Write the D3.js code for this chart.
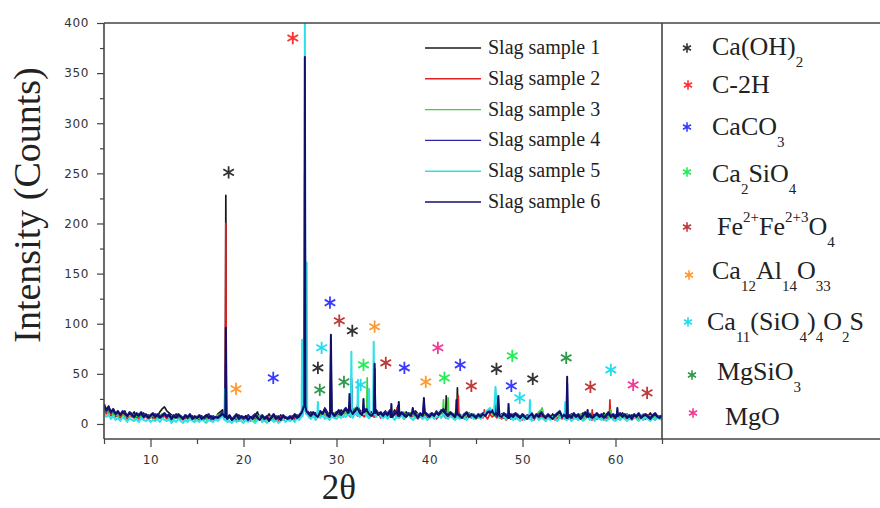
<!DOCTYPE html>
<html>
<head>
<meta charset="utf-8">
<script src="https://cdn.jsdelivr.net/npm/d3@7"></script>
<style>
  html, body { margin: 0; padding: 0; background: #fff; }
  svg { display: block; }
</style>
</head>
<body>
<svg id="chart" width="880" height="508"></svg>
<script>
// 2θ grid of the baseline samples (degrees)
const start = 5;
const step = 0.25;

const seriesNames = ["Slag sample 1", "Slag sample 2", "Slag sample 3", "Slag sample 4", "Slag sample 5", "Slag sample 6"];
const seriesColors = ["#1a1a1a", "#e02020", "#40d040", "#2828a8", "#30e0e8", "#10106a"];

// baseline counts, one value every 0.25 deg from 5 to 65
const base1 = [
  16,12,18,10,14,9,12,8,11,13,7,10,9,12,6,10,8,11,7,9,
  8,6,10,7,12,15,17,13,11,9,7,10,6,8,5,9,7,6,8,5,
  7,4,8,6,5,9,4,7,6,10,12,14,9,6,8,5,7,4,9,6,
  5,8,4,7,6,9,12,5,8,4,7,10,6,5,8,4,9,6,7,5,
  6,8,5,9,7,12,18,14,10,12,9,11,8,13,10,16,12,9,11,10,
  12,9,14,11,16,13,10,15,12,18,14,11,13,16,10,12,9,14,11,8,
  10,13,8,12,9,14,11,8,10,7,12,9,11,8,13,10,7,9,12,8,
  9,11,8,13,10,14,12,9,11,8,10,7,12,9,6,10,8,11,7,9,
  6,9,7,10,8,12,14,11,13,9,7,10,6,9,8,5,10,7,9,6,
  8,5,9,7,10,6,8,11,7,9,5,8,6,10,7,9,12,6,8,5,
  7,10,6,9,5,8,11,7,9,6,10,8,5,9,7,11,6,8,10,7,
  9,6,8,11,7,10,5,9,8,6,10,7,9,5,8,11,6,9,7,8,6
];
const base2 = [
  14,10,12,8,11,7,9,6,10,8,5,9,7,6,8,5,9,6,7,5,
  6,8,5,7,9,6,8,5,7,4,6,8,5,7,4,6,5,8,4,6,
  5,7,4,6,8,5,7,4,6,8,9,11,7,5,6,4,7,5,3,6,
  4,6,5,3,7,5,8,4,6,3,5,7,4,6,5,3,7,4,6,5,
  4,7,5,8,6,9,14,10,8,7,9,6,10,8,11,9,7,10,8,6,
  9,7,11,8,12,9,7,10,13,8,11,9,7,12,8,10,7,9,11,6,
  8,10,6,9,7,11,8,6,9,5,8,10,6,9,7,5,8,6,10,7,
  6,9,7,5,8,11,9,6,8,10,7,5,9,6,8,5,7,10,6,8,
  5,7,9,6,8,5,10,7,9,6,8,5,7,4,8,6,9,5,7,6,
  4,7,5,8,6,4,9,5,7,6,3,8,5,7,4,6,8,5,7,4,
  6,8,5,7,4,9,6,5,8,6,4,7,5,8,6,4,7,5,8,6,
  5,7,4,8,6,5,7,4,6,8,5,7,4,6,9,5,7,4,6,5,6
];
const base3 = [
  12,16,9,13,8,11,7,10,12,6,9,8,11,5,8,10,6,9,7,8,
  6,9,7,5,8,10,9,7,6,8,5,7,9,4,6,8,5,7,6,4,
  8,5,7,6,4,8,6,5,7,9,10,8,6,4,7,5,8,6,4,7,
  6,4,8,5,7,3,6,9,5,7,4,6,8,5,3,7,5,8,6,4,
  7,5,9,6,8,11,16,12,9,8,10,7,11,9,12,8,10,7,9,11,
  8,12,10,7,13,9,11,14,16,12,10,13,11,9,12,8,10,13,9,11,
  7,10,12,8,11,9,6,10,8,12,7,9,11,8,6,10,9,7,11,8,
  10,7,9,12,8,11,14,10,12,8,9,11,7,10,8,6,9,11,7,10,
  8,6,10,7,9,11,13,10,8,11,9,6,8,10,7,9,6,8,10,7,
  9,6,8,5,10,7,9,12,14,8,6,9,7,5,8,10,6,9,7,8,
  6,9,7,5,8,10,6,9,7,11,8,6,9,7,5,8,10,7,6,9,
  7,5,9,6,8,10,7,5,9,7,6,8,10,6,8,5,9,7,6,8,7
];
const base4 = [
  18,13,15,11,14,10,12,9,13,11,8,12,10,7,11,9,12,8,10,7,
  9,11,8,10,7,9,11,8,10,6,9,7,10,8,6,9,7,10,5,8,
  6,9,7,5,8,10,6,8,5,7,9,12,8,6,9,5,7,10,6,8,
  7,5,9,6,8,10,7,5,9,6,8,4,7,10,6,8,5,9,7,6,
  8,6,10,7,9,12,20,15,11,9,12,10,8,13,11,15,10,8,12,9,
  11,14,10,13,16,12,15,11,14,17,12,10,13,15,11,9,12,14,10,12,
  9,12,10,14,8,11,13,9,12,10,8,11,9,13,10,7,11,9,12,10,
  8,11,9,12,10,13,15,11,9,12,10,8,11,9,7,10,12,8,10,9,
  7,10,8,11,9,13,12,14,10,12,9,8,11,9,7,10,8,11,9,7,
  10,8,6,9,11,7,10,8,12,9,7,10,8,6,9,11,13,8,10,7,
  9,7,11,8,10,6,9,12,8,10,7,9,11,8,10,7,9,12,8,10,
  7,9,11,8,10,7,9,6,10,8,11,7,9,10,8,6,9,11,8,7,9
];
const base5 = [
  10,7,9,5,8,4,6,3,7,5,2,6,4,3,5,2,6,4,3,5,
  2,4,3,5,2,6,4,3,5,1,4,2,5,3,1,4,2,5,3,2,
  4,2,5,3,1,4,3,2,5,3,6,8,4,2,3,1,4,2,5,3,
  1,4,2,5,3,1,4,6,2,4,1,3,5,2,4,1,3,5,2,4,
  3,5,2,6,4,8,15,10,7,5,8,4,7,6,9,5,7,4,8,6,
  5,8,6,9,7,10,8,6,11,9,7,10,12,8,6,9,11,7,10,8,
  6,8,5,9,7,4,8,6,9,5,7,10,6,4,8,6,9,5,7,4,
  6,8,5,7,9,6,10,7,5,8,6,4,7,5,8,6,4,7,9,5,
  6,8,5,9,11,14,16,12,10,8,6,9,7,5,8,6,4,7,5,3,
  6,4,7,5,3,6,8,4,6,5,3,6,4,7,5,3,6,9,5,4,
  6,3,5,7,4,6,3,5,8,4,6,3,7,5,4,6,3,5,7,4,
  3,6,4,7,5,3,6,4,8,5,3,6,4,7,5,3,6,4,7,5,4
];
const base6 = [
  20,14,17,12,15,10,13,9,12,10,8,11,9,7,10,8,11,7,9,6,
  8,10,7,9,6,8,10,7,9,5,8,6,9,7,5,8,6,9,5,7,
  6,8,5,7,9,6,8,5,7,6,8,10,7,5,8,4,6,9,5,7,
  6,8,4,7,5,9,6,4,8,5,7,3,6,9,5,7,4,8,6,5,
  7,5,9,6,8,11,18,13,10,8,11,9,7,12,10,14,9,7,11,8,
  10,13,9,12,15,11,14,10,13,16,11,9,12,14,10,8,11,13,9,11,
  8,11,9,13,7,10,12,8,11,9,7,10,8,12,9,6,10,8,11,9,
  7,10,8,11,9,12,14,10,8,11,9,7,10,8,6,9,11,7,9,8,
  6,9,7,10,8,12,11,13,9,11,8,7,10,8,6,9,7,10,8,6,
  9,7,5,8,10,6,9,7,11,8,6,9,7,5,8,10,12,7,9,6,
  8,6,10,7,9,5,8,11,7,9,6,8,10,7,9,6,8,11,7,9,
  6,8,10,7,9,6,8,5,9,7,10,6,8,9,7,5,8,10,7,6,8
];

// peaks: [2θ, counts, half width in deg]
const peaks1 = [[18.1,228,0.06],[26.6,150,0.06],[29.4,60,0.07],[31.6,40,0.07],[34.1,45,0.07],[36.6,18,0.08],[39.4,20,0.07],[41.8,28,0.06],[43.0,36,0.06],[47.2,25,0.15],[54.8,30,0.06]];
const peaks2 = [[18.1,200,0.06],[26.6,120,0.06],[29.4,50,0.07],[34.1,40,0.07],[36.5,16,0.08],[43.1,28,0.06],[45.9,14,0.06],[57.5,14,0.07],[59.4,24,0.06]];
const peaks3 = [[18.1,40,0.06],[26.6,100,0.06],[29.4,40,0.07],[31.6,35,0.07],[33.3,46,0.06],[34.1,40,0.07],[41.5,24,0.06],[42.0,26,0.06],[52.1,16,0.07],[59.5,14,0.07]];
const peaks4 = [[18.1,60,0.06],[26.6,250,0.06],[29.4,70,0.07],[31.6,45,0.07],[34.1,55,0.07],[39.4,22,0.07],[47.2,26,0.15],[54.8,40,0.06]];
const peaks5 = [[18.0,35,0.06],[26.3,84,0.05],[26.6,430,0.05],[26.8,161,0.05],[28.0,22,0.07],[31.6,72,0.06],[32.3,44,0.06],[33.5,35,0.06],[34.0,82,0.07],[47.1,37,0.18],[50.8,24,0.07],[54.6,22,0.07]];
const peaks6 = [[18.1,96,0.06],[26.6,366,0.06],[29.4,89,0.08],[31.4,30,0.07],[32.9,25,0.07],[34.1,60,0.07],[35.9,20,0.07],[36.7,22,0.07],[38.2,16,0.07],[39.4,26,0.07],[42.9,24,0.06],[47.4,28,0.12],[48.5,20,0.07],[54.8,47,0.06],[57.0,14,0.07],[60.2,16,0.07]];

const bases = [base1, base2, base3, base4, base5, base6];
const peakSets = [peaks1, peaks2, peaks3, peaks4, peaks5, peaks6];

// phase labels (rich text segments: [text, "n" | "sub" | "sup"])
const phaseLabels = [
  [["Ca(OH)","n"],["2","sub"]],
  [["C-2H","n"]],
  [["CaCO","n"],["3","sub"]],
  [["Ca","n"],["2","sub"],["SiO","n"],["4","sub"]],
  [["Fe","n"],["2+","sup"],["Fe","n"],["2+3","sup"],["O","n"],["4","sub"]],
  [["Ca","n"],["12","sub"],["Al","n"],["14","sub"],["O","n"],["33","sub"]],
  [["Ca","n"],["11","sub"],["(SiO","n"],["4","sub"],[")","n"],["4","sub"],["O","n"],["2","sub"],["S","n"]],
  [["MgSiO","n"],["3","sub"]],
  [["MgO","n"]]
];
const phaseColors = ["#333333", "#ff3030", "#3a3aff", "#22ee55", "#c03838", "#ff9a30", "#22ddee", "#2e9a4a", "#f03a9a"];

// peak markers: [2θ, counts, phase index]
const markers = [
  [18.4,251,0],[25.3,385,1],[19.2,35,5],[23.2,46,2],[29.3,121,2],[30.3,103,4],[31.7,93,0],
  [34.1,97,5],[28.4,76,6],[28.0,56,0],[28.2,34,7],[32.9,59,3],[30.8,42,7],[32.6,39,6],
  [35.3,61,4],[37.3,56,2],[39.6,42,5],[40.9,76,8],[41.6,46,3],[43.3,59,2],[44.5,38,4],
  [47.2,55,0],[48.9,68,3],[48.8,38,2],[49.7,26,6],[51.1,45,0],[54.7,66,7],[57.3,37,4],
  [59.5,54,6],[61.9,39,8],[63.4,31,4]
];

const yMajor = [0, 50, 100, 150, 200, 250, 300, 350, 400];
const yMinor = [25, 75, 125, 175, 225, 275, 325, 375];
const xMajor = [10, 20, 30, 40, 50, 60];
const xMinor = [5, 15, 25, 35, 45, 55, 65];

const svg = d3.select("#chart");
const plotLeft = 104, plotRight = 662, plotTop = 23, plotBottom = 439;

const x = d3.scaleLinear().domain([5, 65]).range([plotLeft, plotRight]);
const y = d3.scaleLinear().domain([-15, 400]).range([plotBottom, plotTop]);

svg.append("defs").append("clipPath").attr("id", "plotClip")
  .append("rect").attr("x", plotLeft).attr("y", plotTop)
  .attr("width", plotRight - plotLeft).attr("height", plotBottom - plotTop);

// build each pattern from its baseline plus narrow peaks
function buildPattern(base, peaks) {
  let pts = base.map((v, i) => [start + i * step, v]);
  pts = pts.filter(p => !peaks.some(pk => Math.abs(p[0] - pk[0]) <= pk[2] + 0.01));
  peaks.forEach(pk => {
    const b = base[Math.round((pk[0] - start) / step)];
    pts.push([pk[0] - pk[2], b], [pk[0], pk[1]], [pk[0] + pk[2], b]);
  });
  return pts.sort((a, b) => a[0] - b[0]);
}

const line = d3.line().x(d => x(d[0])).y(d => y(d[1]));

const plot = svg.append("g").attr("clip-path", "url(#plotClip)");
bases.forEach((b, i) => {
  plot.append("path")
    .attr("d", line(buildPattern(b, peakSets[i])))
    .attr("fill", "none")
    .attr("stroke", seriesColors[i])
    .attr("stroke-width", i >= 3 ? 2 : 1.7)
    .attr("stroke-linejoin", "round");
});

// asterisk markers
const star = d3.symbol().type(d3.symbolAsterisk).size(105);
svg.append("g").selectAll("path")
  .data(markers)
  .join("path")
  .attr("transform", d => `translate(${x(d[0])},${y(d[1])})`)
  .attr("d", star)
  .attr("fill", "none")
  .attr("stroke", d => phaseColors[d[2]])
  .attr("stroke-width", 1.8);

// axes
const tickFont = "'DejaVu Sans', sans-serif";
function styleAxis(g) {
  g.select(".domain").remove();
  g.selectAll(".tick line").attr("stroke", "#444").attr("stroke-width", 1.2);
  g.selectAll(".tick text").attr("fill", "#333").style("font-family", tickFont)
    .style("font-size", "12px").style("letter-spacing", "0.6px");
}
svg.append("g").attr("transform", `translate(${plotLeft},0)`)
  .call(d3.axisLeft(y).tickValues(yMajor).tickSize(7).tickPadding(8)).call(styleAxis);
svg.append("g").attr("transform", `translate(${plotLeft},0)`)
  .call(d3.axisLeft(y).tickValues(yMinor).tickSize(4).tickFormat("")).call(styleAxis);
svg.append("g").attr("transform", `translate(0,${plotBottom})`)
  .call(d3.axisBottom(x).tickValues(xMajor).tickSize(8).tickPadding(8)).call(styleAxis);
svg.append("g").attr("transform", `translate(0,${plotBottom})`)
  .call(d3.axisBottom(x).tickValues(xMinor).tickSize(5).tickFormat("")).call(styleAxis);

// frame: plot box plus the phase legend box on the right
const frame = svg.append("g").attr("stroke", "#444").attr("stroke-width", 1.6);
frame.append("line").attr("x1", plotLeft).attr("x2", 880).attr("y1", plotTop).attr("y2", plotTop);
frame.append("line").attr("x1", plotLeft).attr("x2", 880).attr("y1", plotBottom).attr("y2", plotBottom);
frame.append("line").attr("x1", plotLeft).attr("x2", plotLeft).attr("y1", plotTop).attr("y2", plotBottom);
frame.append("line").attr("x1", plotRight).attr("x2", plotRight).attr("y1", plotTop).attr("y2", plotBottom);

// axis titles
svg.append("text")
  .attr("transform", "translate(40,205) rotate(-90)")
  .attr("text-anchor", "middle")
  .style("font-family", "'Liberation Serif', serif")
  .style("font-size", "38px")
  .attr("fill", "#222")
  .text("Intensity (Counts)");
svg.append("text")
  .attr("x", 339).attr("y", 499)
  .attr("text-anchor", "middle")
  .style("font-family", "'Liberation Serif', serif")
  .style("font-size", "35px")
  .attr("fill", "#222")
  .text("2θ");

// series legend
const sl = svg.append("g");
seriesNames.forEach((name, i) => {
  const cy = 48 + i * 30.8;
  sl.append("line").attr("x1", 425).attr("x2", 481).attr("y1", cy).attr("y2", cy)
    .attr("stroke", seriesColors[i]).attr("stroke-width", 1.4);
  sl.append("text").attr("x", 488).attr("y", cy + 6)
    .style("font-family", "'Liberation Serif', serif").style("font-size", "20px")
    .attr("fill", "#222").text(name);
});

// phase legend
const phaseRows = [
  { sx: 687, sy: 48, tx: 712, ty: 55 },
  { sx: 688, sy: 85, tx: 712, ty: 93 },
  { sx: 687, sy: 127, tx: 712, ty: 135 },
  { sx: 687, sy: 172, tx: 712, ty: 182 },
  { sx: 687, sy: 227, tx: 717, ty: 235 },
  { sx: 689, sy: 275, tx: 712, ty: 279 },
  { sx: 688, sy: 322, tx: 707, ty: 330 },
  { sx: 692, sy: 375, tx: 717, ty: 380 },
  { sx: 693, sy: 413, tx: 725, ty: 425 }
];
const legendStar = d3.symbol().type(d3.symbolAsterisk).size(60);
const pl = svg.append("g");
phaseLabels.forEach((segs, i) => {
  const r = phaseRows[i];
  pl.append("path").attr("transform", `translate(${r.sx},${r.sy})`).attr("d", legendStar)
    .attr("fill", "none").attr("stroke", phaseColors[i]).attr("stroke-width", 1.6);
  const t = pl.append("text").attr("x", r.tx).attr("y", r.ty)
    .style("font-family", "'Liberation Serif', serif").style("font-size", "26px").attr("fill", "#222");
  segs.forEach(s => {
    const ts = t.append("tspan").text(s[0]);
    if (s[1] === "sub") ts.attr("y", r.ty + 12).style("font-size", "15px");
    else if (s[1] === "sup") ts.attr("y", r.ty - 13).style("font-size", "15px");
    else ts.attr("y", r.ty);
  });
});
</script>
</body>
</html>
